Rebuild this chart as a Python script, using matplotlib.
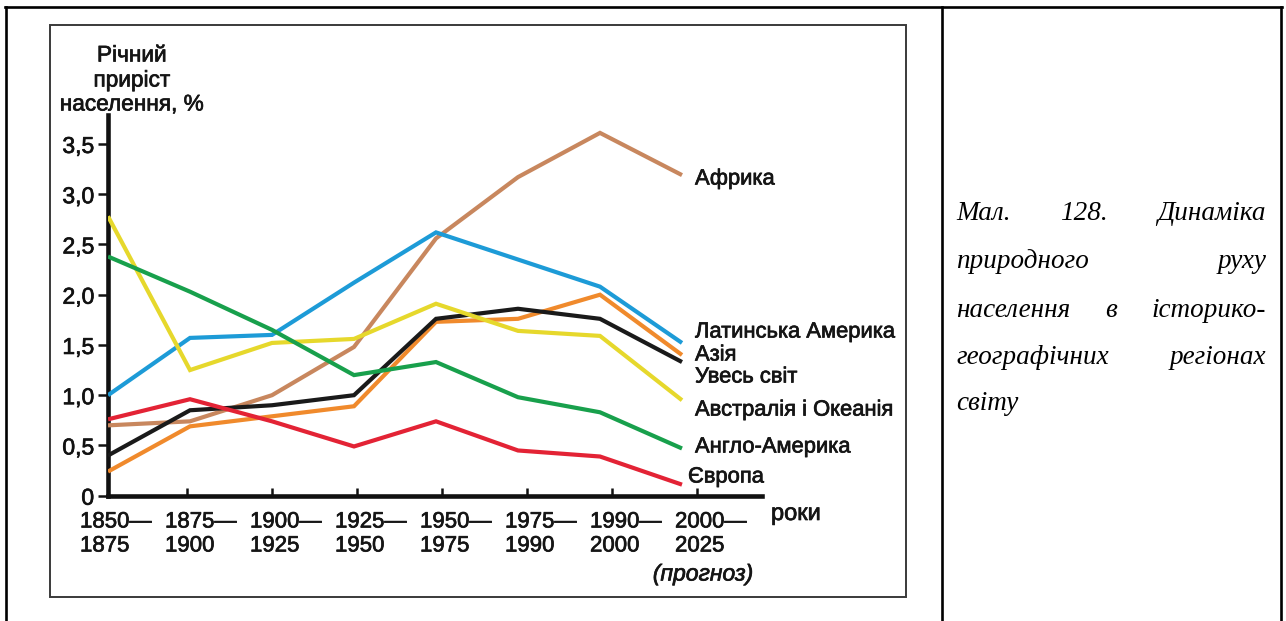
import matplotlib
matplotlib.use("Agg")
import matplotlib.pyplot as plt
from matplotlib.lines import Line2D
from matplotlib.patches import Rectangle
import matplotlib.patheffects as pe

# ---------------- data ----------------
periods_top = ["1850—", "1875—", "1900—", "1925—", "1950—", "1975—", "1990—", "2000—"]
periods_bottom = ["1875", "1900", "1925", "1950", "1975", "1990", "2000", "2025"]
ytick_values = [0, 0.5, 1.0, 1.5, 2.0, 2.5, 3.0, 3.5]
ytick_labels = ["0", "0,5", "1,0", "1,5", "2,0", "2,5", "3,0", "3,5"]

africa = [0.70, 0.74, 1.00, 1.48, 2.56, 3.17, 3.61, 3.19]
latin_america = [1.00, 1.57, 1.60, 2.12, 2.62, 2.35, 2.08, 1.52]
asia = [0.24, 0.69, 0.79, 0.89, 1.73, 1.76, 2.00, 1.40]
world = [0.40, 0.85, 0.90, 1.00, 1.76, 1.86, 1.76, 1.33]
australia = [2.78, 1.25, 1.52, 1.56, 1.91, 1.64, 1.59, 0.95]
anglo_america = [2.38, 2.03, 1.65, 1.20, 1.33, 0.98, 0.83, 0.47]
europe = [0.76, 0.96, 0.74, 0.49, 0.74, 0.45, 0.39, 0.11]

series_names = ["Африка", "Латинська Америка", "Азія", "Увесь світ",
                "Австралія і Океанія", "Англо-Америка", "Європа"]
series_values = [africa, latin_america, asia, world, australia, anglo_america, europe]
series_colors = ["#c8875e", "#1d9bd7", "#f08a2c", "#1a1a1a", "#e6d82c", "#18a04c", "#e32335"]

caption_lines = [["Мал.", "128.", "Динаміка"],
                 ["природного", "руху"],
                 ["населення", "в", "історико-"],
                 ["географічних", "регіонах"],
                 ["світу"]]

# ---------------- figure ----------------
W, H = 1286, 621
fig = plt.figure(figsize=(W / 100, H / 100), dpi=100)
fig.patch.set_facecolor("white")
SANS = ["Liberation Sans", "DejaVu Sans"]
SERIF = ["Liberation Serif", "DejaVu Serif"]
TXT = "#151515"
SEMI = [pe.withStroke(linewidth=0.5, foreground=TXT)]


def fx(x):
    return x / W


def fy(y):
    return 1 - y / H


def label(x, y, s, size, **kw):
    kw.setdefault("ha", "left")
    kw.setdefault("va", "center")
    return fig.text(fx(x), fy(y), s, fontsize=size, family=SANS, color=TXT,
                    path_effects=SEMI, **kw)


# table lines
for (x0, y0, x1, y1) in [(5, 7, 1282, 7), (6, 7, 6, 621), (942, 7, 942, 621), (1281, 7, 1281, 621)]:
    fig.add_artist(Line2D([fx(x0), fx(x1)], [fy(y0), fy(y1)], color="black", lw=1.9,
                          transform=fig.transFigure, solid_capstyle="projecting"))

# inner frame
fig.add_artist(Rectangle((fx(50), fy(597)), fx(906) - fx(50), fy(25) - fy(597),
                         transform=fig.transFigure, fill=False, edgecolor="#3a3a3a", lw=1.4))

# axes geometry (pixels)
ax_left, ax_right, ax_bottom, ax_top = 108, 762, 495.7, 115
px_per_x = 82.0
px_per_y = 100.5
ax = fig.add_axes([fx(ax_left), fy(ax_bottom), (ax_right - ax_left) / W, (ax_bottom - ax_top) / H])
ax.set_xlim(0, (ax_right - ax_left) / px_per_x)
ax.set_ylim(0, (ax_bottom - ax_top) / px_per_y)
ax.patch.set_alpha(0)

xs = list(range(len(periods_top)))
for vals, col in zip(series_values, series_colors):
    ax.plot(xs, vals, color=col, lw=3.0, solid_joinstyle="miter", solid_capstyle="butt", zorder=3)

for s in ["top", "right"]:
    ax.spines[s].set_visible(False)
for s in ["left", "bottom"]:
    ax.spines[s].set_linewidth(3.3)
    ax.spines[s].set_color("#111111")
    ax.spines[s].set_capstyle("projecting")

ax.set_yticks(ytick_values)
ax.set_yticklabels(ytick_labels, fontsize=16.5, family=SANS, color=TXT)
for t in ax.get_yticklabels():
    t.set_path_effects(SEMI)
ax.tick_params(axis="y", direction="out", length=7, width=1.8, pad=3, colors="#111111")

# category tick marks (spacing in the drawing differs slightly from point spacing)
tick_pos = [(i * 85 - 6) / px_per_x for i in range(1, len(periods_top))]
ax.set_xticks(tick_pos)
ax.set_xticklabels([])
ax.tick_params(axis="x", direction="in", length=6, width=1.8, colors="#111111")

# x category labels
for i, (t, b) in enumerate(zip(periods_top, periods_bottom)):
    left_px = 80 + 85 * i
    label(left_px, 522, t, 16)
    label(left_px, 546, b, 16)

label(703, 574, "(прогноз)", 16.5, style="italic", ha="center")
label(771, 514, "роки", 17)

# y label
for txt, y in zip(["Річний", "приріст", "населення, %"], [55, 80, 104]):
    label(132, y, txt, 16.3, ha="center")

# series labels
label_pos = [(695, 179), (695, 332), (695, 355), (695, 377), (695, 410), (695, 447), (688, 477)]
for name, (x, y) in zip(series_names, label_pos):
    label(x, y, name, 15.8)

# caption (justified)
cap_left, cap_right = 956, 1266
baselines = [220, 268, 317, 364, 410]
fig.canvas.draw()
renderer = fig.canvas.get_renderer()
for words, yb in zip(caption_lines, baselines):
    texts = [fig.text(0, fy(yb), w, fontsize=19.5, family=SERIF, style="italic",
                      ha="left", va="baseline", color="black") for w in words]
    widths = [t.get_window_extent(renderer).width for t in texts]
    if len(words) == 1:
        texts[0].set_x(fx(cap_left))
        continue
    gap = (cap_right - cap_left - sum(widths)) / (len(words) - 1)
    x = cap_left
    for t, wdt in zip(texts, widths):
        t.set_x(fx(x))
        x += wdt + gap

fig.savefig("out.png", dpi=100, facecolor="white")
